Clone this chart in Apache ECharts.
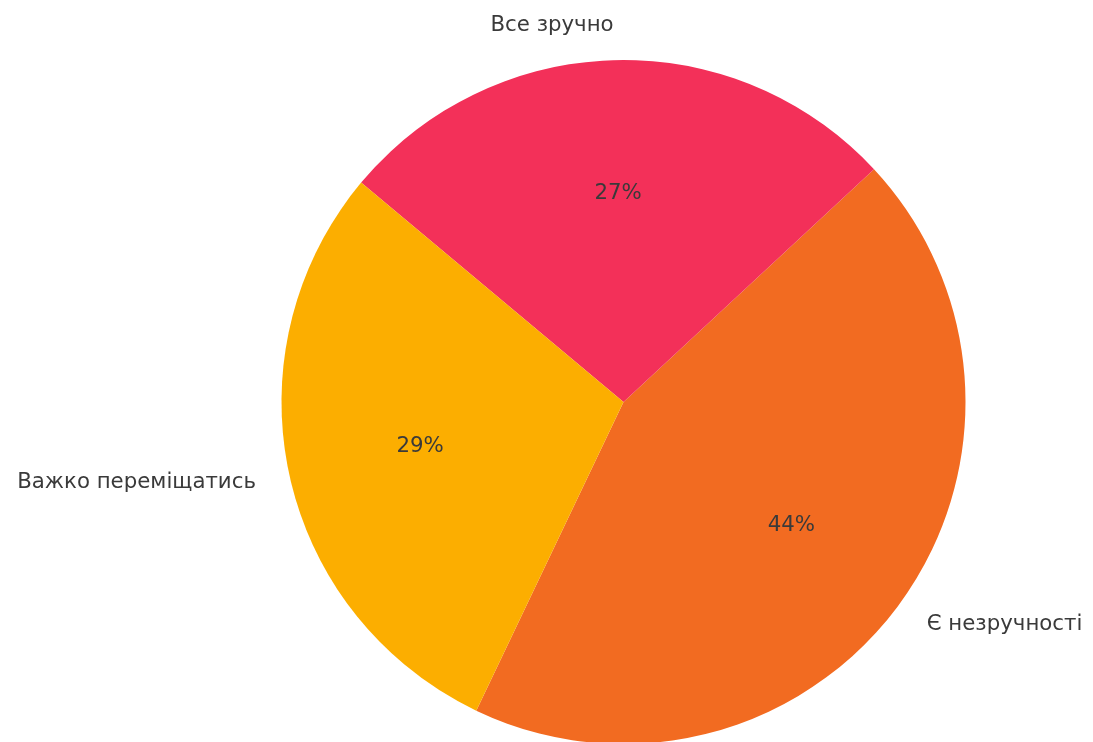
<!DOCTYPE html>
<html>
<head>
<meta charset="utf-8">
<script src="https://cdn.jsdelivr.net/npm/echarts@6/dist/echarts.min.js"></script>
<style>
  html, body { margin: 0; padding: 0; background: #ffffff; }
  #chart { width: 1093px; height: 742px; }
</style>
</head>
<body>
<div id="chart"></div>
<script>
// Survey answers and their shares (percent)
const categories = ['Є незручності', 'Все зручно', 'Важко переміщатись'];
const values = [44, 27, 29];
const colors = ['#F26B21', '#F33059', '#FCAE00'];

const CX = 623.5, CY = 402, R = 342;
const FONT = 'DejaVu Sans';
const FONT_SIZE = 21.3;
const TEXT = '#3a3a3a';

const total = values.reduce((a, b) => a + b, 0);
const slices = categories.map((name, i) => ({
  name, value: values[i], itemStyle: { color: colors[i] }
}));

const chart = echarts.init(document.getElementById('chart'), null, { renderer: 'canvas' });
chart.setOption({
  animation: false,
  series: [
    {
      // the pie itself, with the category names outside
      type: 'pie',
      center: [CX, CY],
      radius: [0, R],
      startAngle: 244.5,
      clockwise: false,
      avoidLabelOverlap: false,
      silent: true,
      data: slices,
      label: {
        show: true,
        position: 'outside',
        formatter: '{b}',
        fontFamily: FONT,
        fontSize: FONT_SIZE,
        color: TEXT,
        distanceToLabelLine: 0
      },
      labelLine: { show: false, length: R * 0.1, length2: 0 }
    },
    {
      // percentage labels on a thin invisible ring at 60% of the radius
      type: 'pie',
      center: [CX, CY],
      radius: [R * 0.6 - 0.5, R * 0.6 + 0.5],
      startAngle: 244.5,
      clockwise: false,
      avoidLabelOverlap: false,
      silent: true,
      data: slices.map(s => ({ name: s.name, value: s.value })),
      itemStyle: { color: 'rgba(0,0,0,0)', borderWidth: 0 },
      label: {
        show: true,
        position: 'inside',
        formatter: p => Math.round(p.value / total * 100) + '%',
        fontFamily: FONT,
        fontSize: FONT_SIZE,
        color: TEXT
      },
      labelLine: { show: false }
    }
  ]
});
</script>
</body>
</html>
